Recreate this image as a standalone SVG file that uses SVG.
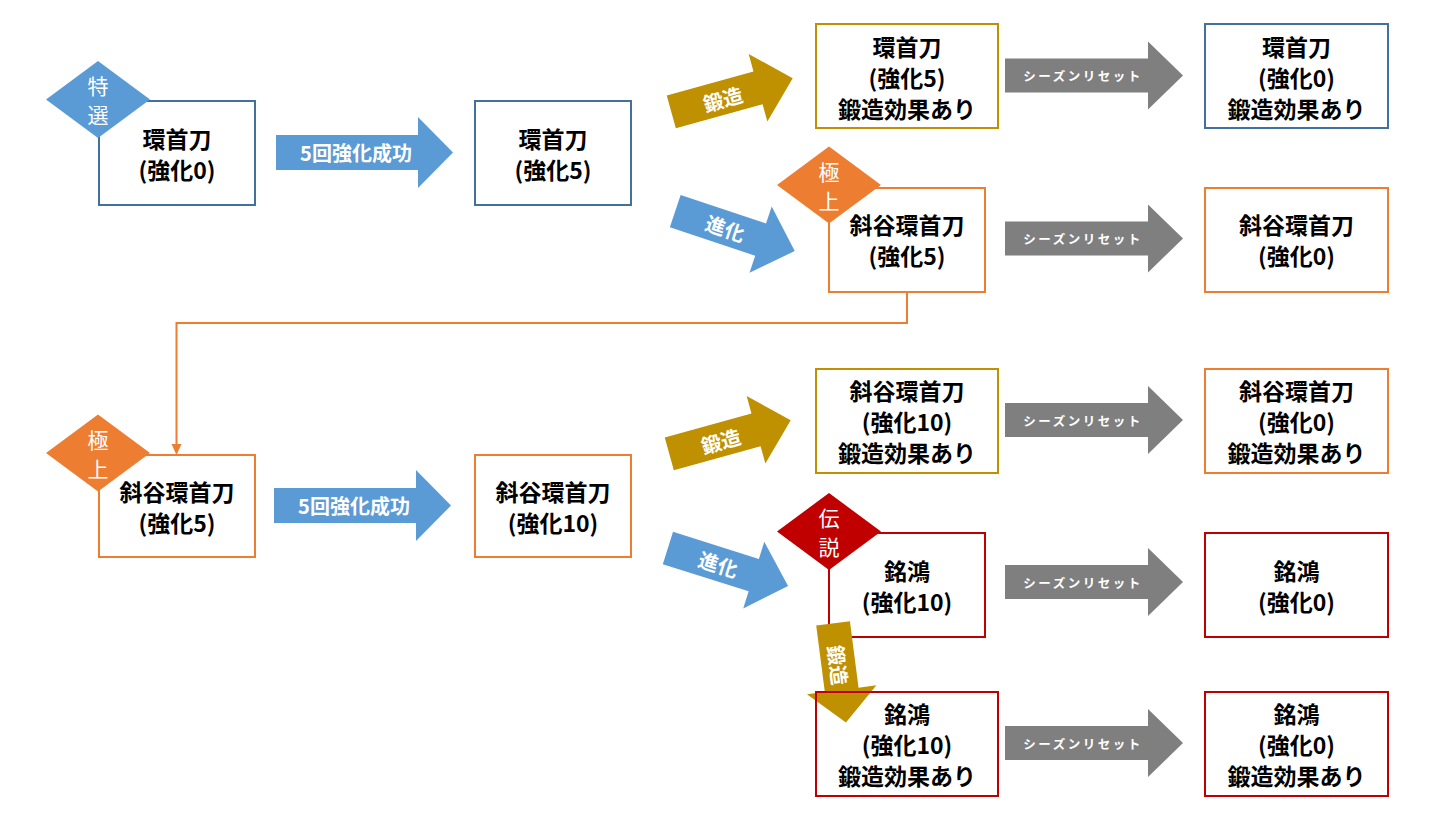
<svg xmlns="http://www.w3.org/2000/svg" width="1451" height="819" viewBox="0 0 1451 819">
<defs>
<style>
.box{fill:#fff;stroke-width:2}
.bl{stroke:#41719C}.or{stroke:#ED7D31}.gd{stroke:#BF9000}.rd{stroke:#C00000}
.t{font-family:"Noto Sans CJK JP","Noto Sans",sans-serif;font-weight:bold;font-size:23px;fill:#000;text-anchor:middle;dominant-baseline:central}
.dt{font-family:"Noto Sans CJK JP","Noto Sans",sans-serif;font-size:21px;fill:#fff;text-anchor:middle;dominant-baseline:central}
.at{font-family:"Noto Sans CJK JP","Noto Sans",sans-serif;font-weight:bold;font-size:20px;fill:#fff;text-anchor:middle;dominant-baseline:central}
.gt{font-family:"Noto Sans CJK JP","Noto Sans",sans-serif;font-weight:bold;font-size:12.5px;letter-spacing:2.5px;fill:#fff;text-anchor:middle;dominant-baseline:central}
.gray{fill:#7F7F7F}.blue{fill:#5B9BD5}.gold{fill:#BF9000}.orf{fill:#ED7D31}.rdf{fill:#C00000}
</style>
<path id="tilt" d="M-63,-17H27V-35L63,0L27,35V17H-63Z"/>
<path id="down" d="M-50,-17H17V-35L50,0L17,35V17H-50Z"/>
<path id="gar" d="M0,-17H143V-34L178,0L143,34V17H0Z"/>
<path id="dia" d="M0,-38.5L52,0L0,38.5L-52,0Z"/>
</defs>
<rect width="1451" height="819" fill="#fff"/>

<g id="connectors">
<path d="M907,292V323H176.5V446" fill="none" stroke="#ED7D31" stroke-width="2"/>
<path d="M171.5,444L181.5,444L176.5,455Z" fill="#ED7D31"/>
<g id="arr-5a"><path class="blue" d="M276,135H418V117L453,152.5L418,188V170H276Z"/><text class="at" x="356" y="152">5回強化成功</text></g>
<g id="arr-5b"><path class="blue" d="M274,488H416V470L451,505.5L416,541V523H274Z"/><text class="at" x="354" y="505">5回強化成功</text></g>
<g id="arr-f1" transform="translate(732,95) rotate(-15.5)"><use href="#tilt" class="gold"/><text class="at" x="-10" y="1" font-size="22">鍛造</text></g>
<g id="arr-e1" transform="translate(735,231) rotate(18.5)"><use href="#tilt" class="blue"/><text class="at" x="-10" y="0" font-size="22">進化</text></g>
<g id="arr-f2" transform="translate(730,437) rotate(-15.5)"><use href="#tilt" class="gold"/><text class="at" x="-10" y="1" font-size="22">鍛造</text></g>
<g id="arr-e2" transform="translate(728,567) rotate(17.5)"><use href="#tilt" class="blue"/><text class="at" x="-10" y="0" font-size="22">進化</text></g>
<g id="gr1" transform="translate(1005,75.5)"><use href="#gar" class="gray"/><text class="gt" x="78" y="0">シーズンリセット</text></g>
<g id="gr2" transform="translate(1005,238.5)"><use href="#gar" class="gray"/><text class="gt" x="78" y="0">シーズンリセット</text></g>
<g id="gr3" transform="translate(1005,420)"><use href="#gar" class="gray"/><text class="gt" x="78" y="0">シーズンリセット</text></g>
<g id="gr4" transform="translate(1005,582)"><use href="#gar" class="gray"/><text class="gt" x="78" y="0">シーズンリセット</text></g>
<g id="gr5" transform="translate(1005,743)"><use href="#gar" class="gray"/><text class="gt" x="78" y="0">シーズンリセット</text></g>
</g>

<g id="nA"><rect class="box bl" x="99" y="101" width="156" height="104"/><text class="t" x="177" y="137.5">環首刀</text><text class="t" x="177" y="168.5">(強化0)</text>
<g transform="translate(98,99.5)"><use href="#dia" class="blue"/><text class="dt" y="-14.5">特</text><text class="dt" y="14.5">選</text></g></g>
<g id="nB"><rect class="box bl" x="475" y="101" width="156" height="104"/><text class="t" x="553" y="137.5">環首刀</text><text class="t" x="553" y="168.5">(強化5)</text></g>
<g id="nC"><rect class="box gd" x="816" y="24" width="182" height="104"/><text class="t" x="907" y="45.5">環首刀</text><text class="t" x="907" y="76.5">(強化5)</text><text class="t" x="907" y="107.5">鍛造効果あり</text></g>
<g id="nD"><rect class="box bl" x="1205" y="24" width="183" height="104"/><text class="t" x="1296.5" y="45.5">環首刀</text><text class="t" x="1296.5" y="76.5">(強化0)</text><text class="t" x="1296.5" y="107.5">鍛造効果あり</text></g>
<g id="nE"><rect class="box or" x="829" y="188" width="156" height="104"/><text class="t" x="907" y="223.5">斜谷環首刀</text><text class="t" x="907" y="254.5">(強化5)</text>
<g transform="translate(829,185)"><use href="#dia" class="orf"/><text class="dt" y="-14.5">極</text><text class="dt" y="14.5">上</text></g></g>
<g id="nF"><rect class="box or" x="1205" y="188" width="183" height="104"/><text class="t" x="1296.5" y="223.5">斜谷環首刀</text><text class="t" x="1296.5" y="254.5">(強化0)</text></g>
<g id="nG"><rect class="box or" x="99" y="455" width="156" height="102"/><text class="t" x="177" y="490.5">斜谷環首刀</text><text class="t" x="177" y="521.5">(強化5)</text>
<g transform="translate(98,453)"><use href="#dia" class="orf"/><text class="dt" y="-14.5">極</text><text class="dt" y="14.5">上</text></g></g>
<g id="nH"><rect class="box or" x="475" y="455" width="156" height="102"/><text class="t" x="553" y="490.5">斜谷環首刀</text><text class="t" x="553" y="521.5">(強化10)</text></g>
<g id="nI"><rect class="box gd" x="816" y="369" width="182" height="104"/><text class="t" x="907" y="390">斜谷環首刀</text><text class="t" x="907" y="421">(強化10)</text><text class="t" x="907" y="452">鍛造効果あり</text></g>
<g id="nJ"><rect class="box or" x="1205" y="369" width="183" height="104"/><text class="t" x="1296.5" y="390">斜谷環首刀</text><text class="t" x="1296.5" y="421">(強化0)</text><text class="t" x="1296.5" y="452">鍛造効果あり</text></g>
<g id="nK"><rect class="box rd" x="829" y="533" width="156" height="104"/><text class="t" x="907" y="569.5">銘鴻</text><text class="t" x="907" y="600.5">(強化10)</text>
<g transform="translate(829,531.5)"><use href="#dia" class="rdf"/><text class="dt" y="-14.5">伝</text><text class="dt" y="14.5">説</text></g></g>
<g id="nL"><rect class="box rd" x="1205" y="533" width="183" height="104"/><text class="t" x="1296.5" y="569.5">銘鴻</text><text class="t" x="1296.5" y="600.5">(強化0)</text></g>
<g id="arr-f3" transform="translate(839.5,673) rotate(82.6)"><use href="#down" class="gold"/><text class="at" x="-8" y="0" font-size="21">鍛造</text></g>
<g id="nM"><rect x="816" y="692" width="182" height="104" fill="none" stroke="#C00000" stroke-width="2"/><text class="t" x="907" y="713">銘鴻</text><text class="t" x="907" y="744">(強化10)</text><text class="t" x="907" y="775">鍛造効果あり</text></g>
<g id="nN"><rect class="box rd" x="1205" y="692" width="183" height="104"/><text class="t" x="1296.5" y="713">銘鴻</text><text class="t" x="1296.5" y="744">(強化0)</text><text class="t" x="1296.5" y="775">鍛造効果あり</text></g>
</svg>
